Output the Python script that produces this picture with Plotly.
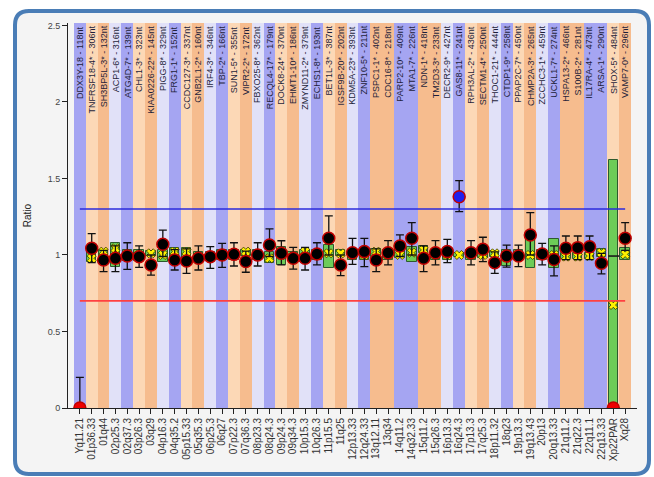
import plotly.graph_objects as go

# ---------------- data ----------------
regions = ["Yq11.21", "01p36.33", "01q44", "02p25.3", "02q37.3", "03p26.3", "03q29",
           "04p16.3", "04q35.2", "05p15.33", "05q35.3", "06p25.3", "06q27", "07p22.3",
           "07q36.3", "08p23.3", "08q24.3", "09p24.3", "09q34.3", "10p15.3", "10q26.3",
           "11p15.5", "11q25", "12p13.33", "12q24.33", "13q12.11", "13q34", "14q11.2",
           "14q32.33", "15q11.2", "15q26.3", "16p13.3", "16q24.3", "17p13.3", "17q25.3",
           "18p11.32", "18q23", "19p13.3", "19q13.43", "20p13", "20q13.33", "21q11.2",
           "21q22.3", "22q11.1", "22q13.33", "Xp22PAR", "Xq28"]

probes = ["DDX3Y-18 - 118nt", "TNFRSF18-4* - 306nt", "SH3BP5L-3* - 132nt", "ACP1-6* - 316nt",
          "ATG4D-7* - 139nt", "CHL1-3* - 323nt", "KIAA0226-22* - 145nt", "PIGG-8* - 329nt",
          "FRG1-1* - 152nt", "CCDC127-3* - 337nt", "GNB2L1-2* - 160nt", "IRF4-3* - 346nt",
          "TBP-2* - 166nt", "SUN1-5* - 355nt", "VIPR2-2* - 172nt", "FBXO25-8* - 362nt",
          "RECQL4-17* - 179nt", "DOCK8-24* - 370nt", "EHMT1-10* - 186nt", "ZMYND11-2* - 379nt",
          "ECHS1-8* - 193nt", "BET1L-3* - 387nt", "IGSF9B-20* - 202nt", "KDM5A-23* - 393nt",
          "ZNF10-5* - 211nt", "PSPC1-1* - 402nt", "CDC16-8* - 218nt", "PARP2-10* - 409nt",
          "MTA1-7* - 226nt", "NDN-1* - 418nt", "TM2D3-3* - 233nt", "DECR2-9* - 427nt",
          "GAS8-11* - 241nt", "RPH3AL-2* - 436nt", "SECTM1-4* - 250nt", "THOC1-21* - 444nt",
          "CTDP1-9* - 258nt", "PPAP2C-7* - 450nt", "CHMP2A-3* - 265nt", "ZCCHC3-1* - 459nt",
          "UCKL1-7* - 274nt", "HSPA13-2* - 466nt", "S100B-2* - 281nt", "IL17RA-4* - 473nt",
          "ARSA-1* - 290nt", "SHOX-5* - 484nt", "VAMP7-0* - 296nt"]

# band type per region: P=odd p-arm (peach), Q=odd q-arm (orange), L=even p-arm (lavender), B=even q-arm (blue)
band_type = ["B", "P", "Q", "L", "B", "P", "Q", "L", "B", "P", "Q", "L", "B", "P", "Q",
             "L", "B", "P", "Q", "L", "B", "P", "Q", "L", "B", "Q", "Q", "B", "B", "Q",
             "Q", "L", "B", "P", "Q", "L", "B", "P", "Q", "L", "B", "Q", "Q", "B", "B",
             "P", "Q"]

ratio = [0.0, 1.044, 0.967, 0.978, 0.993, 0.989, 0.935, 1.07, 0.967, 0.961, 0.978, 0.989,
         1.0, 1.004, 0.957, 1.0, 1.065, 1.011, 0.978, 0.978, 1.007, 1.109, 0.935, 1.015,
         1.022, 0.967, 1.015, 1.059, 1.109, 0.978, 1.015, 1.022, 1.381, 1.015, 1.037, 0.95,
         0.993, 0.993, 1.131, 1.007, 0.971, 1.044, 1.048, 1.054, 0.946, 0.0, 1.109]
err_low = [0.0, 0.95, 0.891, 0.891, 0.906, 0.919, 0.869, 0.99, 0.902, 0.88, 0.902, 0.913,
           0.919, 0.928, 0.887, 0.928, 0.99, 0.935, 0.908, 0.902, 0.935, 1.0, 0.865, 0.939,
           0.924, 0.891, 0.935, 0.99, 1.0, 0.891, 0.935, 0.95, 1.283, 0.935, 0.956, 0.88,
           0.92, 0.924, 1.0, 0.935, 0.863, 0.97, 0.97, 0.97, 0.876, 0.0, 1.03]
err_high = [0.2, 1.14, 1.03, 1.06, 1.08, 1.059, 1.0, 1.163, 1.035, 1.04, 1.059, 1.055,
            1.076, 1.08, 1.025, 1.08, 1.17, 1.093, 1.05, 1.05, 1.08, 1.255, 1.0, 1.109,
            1.109, 1.04, 1.094, 1.131, 1.211, 1.06, 1.094, 1.102, 1.486, 1.094, 1.116, 1.02,
            1.065, 1.065, 1.277, 1.076, 1.06, 1.124, 1.124, 1.124, 1.01, 0.0, 1.211]
ref_low = [None, 0.956, 0.99, 0.924, 0.96, 0.96, 0.995, 0.957, 0.957, 0.935, 0.96, 0.96,
           0.97, 0.97, 0.995, 0.97, 0.946, 0.935, 0.96, 0.957, 0.97, 0.913, 0.995, 0.97,
           0.97, 0.989, 0.97, 0.978, 0.957, 1.011, 0.97, 0.97, 0.99, 0.97, 0.98, 0.99,
           0.93, 0.97, 0.913, 0.97, 0.913, 0.975, 0.975, 0.975, 0.99, 0.0, 0.967]
ref_high = [None, 1.03, 1.03, 1.076, 1.035, 1.03, 1.025, 1.033, 1.044, 1.044, 1.02, 1.02,
            1.03, 1.03, 1.03, 1.03, 1.022, 1.05, 1.02, 1.033, 1.03, 1.065, 1.03, 1.03,
            1.03, 1.037, 1.03, 1.044, 1.055, 1.059, 1.03, 1.03, 1.01, 1.03, 1.02, 1.025,
            1.03, 1.03, 1.109, 1.03, 1.102, 1.01, 1.01, 1.01, 1.037, 1.621, 1.044]
ref_mean = [None, 0.978, 1.022, 1.044, 1.0, 1.0, 1.011, 1.0, 1.022, 1.022, 0.99, 0.99,
            1.0, 1.0, 1.022, 1.0, 0.978, 1.0, 0.99, 1.022, 1.0, 1.011, 1.011, 1.0,
            1.0, 1.022, 1.0, 1.0, 1.015, 1.033, 1.0, 1.0, 1.0, 1.0, 1.0, 1.011,
            1.0, 1.0, 1.0, 1.0, 1.0, 0.989, 0.989, 0.993, 1.015, 0.673, 1.004]
ref_mid = [None] * 45 + [0.993, None]

upper_threshold = 1.3
lower_threshold = 0.7
y_max = 2.516

# ---------------- styling ----------------
band_colors = {"P": "#fcd8b6", "Q": "#f6bc8e", "L": "#e1e1f8", "B": "#a5a5f2"}
W, H = 654, 477
ML, MR, MT, MB = 68, 17, 23, 69
PW, PH = W - ML - MR, H - MT - MB

n = len(regions)
xs = list(range(n))


def px_x(p):
    return (p - ML) / PW


def px_y(p):
    return (H - MB - p) / PH


fig = go.Figure()

# background bands
fig.add_trace(go.Bar(x=xs, y=[y_max] * n, base=0, width=1,
                     marker=dict(color=[band_colors[t] for t in band_type], line=dict(width=0)),
                     hoverinfo="skip", showlegend=False))

# reference range boxes
box_x = [i for i in xs if ref_low[i] is not None]
fig.add_trace(go.Bar(x=box_x, base=[ref_low[i] for i in box_x],
                     y=[ref_high[i] - ref_low[i] for i in box_x], width=0.8,
                     marker=dict(color="#6dcc58", line=dict(color="#2d5a2d", width=1)),
                     showlegend=False))

# reference mean (yellow x)
mean_x = [i for i in xs if ref_mean[i] is not None]
fig.add_trace(go.Scatter(x=mean_x, y=[ref_mean[i] for i in mean_x], mode="markers",
                         marker=dict(symbol="x", size=8, color="#fff200",
                                     line=dict(color="#333300", width=0.8)),
                         showlegend=False))


def dot_color(v):
    if v < lower_threshold:
        return "#ee0000"
    if v > upper_threshold:
        return "#2020ee"
    return "#000000"


# sample ratio with error bars
fig.add_trace(go.Scatter(
    x=xs, y=ratio, mode="markers",
    error_y=dict(type="data", symmetric=False,
                 array=[h - r for h, r in zip(err_high, ratio)],
                 arrayminus=[r - l for r, l in zip(ratio, err_low)],
                 color="#111111", thickness=1.3, width=4),
    marker=dict(size=12, color=[dot_color(v) for v in ratio],
                line=dict(color="#c00000", width=1.5)),
    showlegend=False))

shapes = [
    dict(type="line", xref="x", yref="y", x0=0, x1=n - 1, y0=upper_threshold, y1=upper_threshold,
         line=dict(color="#2b2bdc", width=1.5), layer="above"),
    dict(type="line", xref="x", yref="y", x0=0, x1=n - 1, y0=lower_threshold, y1=lower_threshold,
         line=dict(color="#ff4040", width=1.8), layer="above"),
]

# middle line inside box (drawn from data)
for i in xs:
    if ref_mid[i] is not None:
        shapes.append(dict(type="line", xref="x", yref="y", x0=i - 0.42, x1=i + 0.5,
                           y0=ref_mid[i], y1=ref_mid[i],
                           line=dict(color="#1a1a1a", width=1.6), layer="above"))

# rounded frame
L_, R_, T_, B_, rad = 15, 649, 11, 474, 14
path = (f"M {px_x(L_ + rad)},{px_y(T_)} L {px_x(R_ - rad)},{px_y(T_)} "
        f"Q {px_x(R_)},{px_y(T_)} {px_x(R_)},{px_y(T_ + rad)} "
        f"L {px_x(R_)},{px_y(B_ - rad)} Q {px_x(R_)},{px_y(B_)} {px_x(R_ - rad)},{px_y(B_)} "
        f"L {px_x(L_ + rad)},{px_y(B_)} Q {px_x(L_)},{px_y(B_)} {px_x(L_)},{px_y(B_ - rad)} "
        f"L {px_x(L_)},{px_y(T_ + rad)} Q {px_x(L_)},{px_y(T_)} {px_x(L_ + rad)},{px_y(T_)} Z")
shapes.append(dict(type="path", xref="paper", yref="paper", path=path,
                   fillcolor="#f4f4f4", line=dict(color="#4a7db6", width=4), layer="below"))

annotations = [dict(x=i, y=y_max - 0.005, xref="x", yref="y", text=probes[i], showarrow=False,
                    textangle=-90, xanchor="center", yanchor="top",
                    font=dict(family="Liberation Sans, Arial", size=9, color="#1e1e3a"))
               for i in xs]

fig.update_layout(
    width=W, height=H, margin=dict(l=ML, r=MR, t=MT, b=MB),
    paper_bgcolor="white", plot_bgcolor="white",
    barmode="overlay", bargap=0, showlegend=False,
    shapes=shapes, annotations=annotations,
    font=dict(family="Liberation Sans, Arial", color="#333333"),
    xaxis=dict(range=[-1, n], tickmode="array", tickvals=xs, ticktext=regions,
               tickangle=-90, ticks="outside", ticklen=5, tickcolor="#222222",
               tickfont=dict(size=10, color="#333333"),
               showline=True, linecolor="#222222", linewidth=1,
               showgrid=False, zeroline=False, fixedrange=True),
    yaxis=dict(range=[0, y_max], tickmode="array", tickvals=[0, 0.5, 1, 1.5, 2, 2.5],
               ticktext=["0", "0.5", "1", "1.5", "2", "2.5"],
               ticks="outside", ticklen=5, tickcolor="#222222",
               tickfont=dict(size=9, color="#444444"),
               showline=True, linecolor="#222222", linewidth=1,
               showgrid=False, zeroline=False,
               title=dict(text="Ratio", font=dict(size=10, color="#222222"), standoff=14)),
)

fig.write_html("out.html")
